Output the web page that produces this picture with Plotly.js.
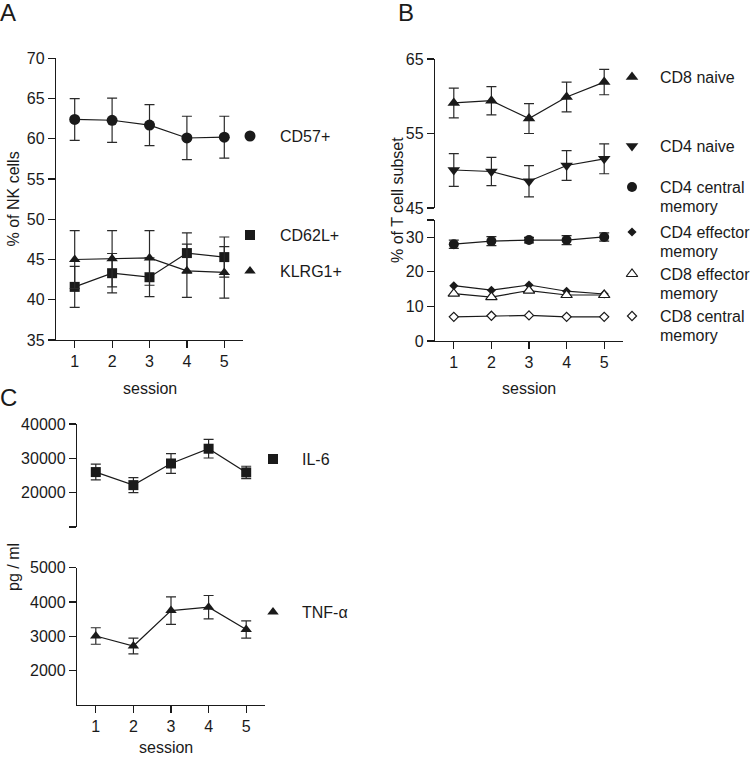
<!DOCTYPE html>
<html>
<head>
<meta charset="utf-8">
<script src="https://cdn.plot.ly/plotly-3.0.1.min.js"></script>
<style>html,body{margin:0;padding:0;background:#fff;}#chart{width:752px;height:758px;}</style>
</head>
<body>
<div id="chart"></div>
<script>
// ---------- data ----------
const sessions = [1, 2, 3, 4, 5];

// Panel A: % of NK cells
const nkNames = ['CD57+', 'CD62L+', 'KLRG1+'];
const cd57 = [62.4, 62.3, 61.7, 60.1, 60.2];
const cd57Err = [2.6, 2.75, 2.55, 2.7, 2.6];
const cd62l = [41.6, 43.3, 42.8, 45.8, 45.3];
const cd62lErr = [2.55, 2.45, 2.4, 2.5, 2.5];
const klrg1 = [45.0, 45.1, 45.2, 43.6, 43.4];
const klrg1Err = [3.6, 3.5, 3.4, 3.3, 3.2];

// Panel B: % of T cell subset
const tNames = ['CD8 naive', 'CD4 naive', 'CD4 central memory', 'CD4 effector memory', 'CD8 effector memory', 'CD8 central memory'];
const cd8Naive = [59.1, 59.4, 57.0, 59.9, 61.9];
const cd8NaiveErr = [2.0, 1.9, 2.0, 2.0, 1.7];
const cd4Naive = [50.1, 49.9, 48.6, 50.7, 51.6];
const cd4NaiveErr = [2.2, 1.9, 2.1, 2.0, 2.0];
const cd4Central = [28.0, 28.9, 29.2, 29.2, 30.1];
const cd4CentralErr = [1.2, 1.3, 0.8, 1.3, 1.2];
const cd4Effector = [16.0, 14.7, 16.2, 14.4, 13.6];
const cd8Effector = [13.7, 12.7, 14.6, 13.3, 13.3];
const cd8Central = [7.0, 7.3, 7.4, 7.0, 7.0];

// Panel C: pg / ml
const cytoNames = ['IL-6', 'TNF-α'];
const il6 = [26000, 22200, 28500, 32800, 25900];
const il6Err = [2300, 2200, 2900, 2700, 1800];
const tnf = [3010, 2720, 3750, 3850, 3200];
const tnfErr = [240, 230, 400, 340, 250];

// tick labels
const nkTicks = [35, 40, 45, 50, 55, 60, 65, 70];
const tUpperTicks = [45, 55, 65];
const tLowerTicks = [0, 10, 20, 30, 35];
const tLowerTickText = ['0', '10', '20', '30', ''];
const il6Ticks = [10000, 20000, 30000, 40000];
const il6TickText = ['', '20000', '30000', '40000'];
const tnfTicks = [2000, 3000, 4000, 5000];

// ---------- layout helpers ----------
const W = 752, H = 758;
const FONT = 'Liberation Sans, Arial, Helvetica, sans-serif';
const INK = '#1a1a1a';
const xd = (a, b) => [a / W, b / W];
const yd = (top, bottom) => [1 - bottom / H, 1 - top / H];

function axisStyle(extra) {
  return Object.assign({
    showline: true, linecolor: INK, linewidth: 1.2,
    ticks: 'outside', ticklen: 7, tickwidth: 1.2, tickcolor: INK,
    showgrid: false, zeroline: false, fixedrange: true,
    tickfont: {family: FONT, size: 16, color: INK}
  }, extra);
}
const xStyle = (domain, anchor) => axisStyle({
  domain: domain, anchor: anchor, range: [0.5, 5.5], tickvals: sessions, ticktext: sessions.map(String)
});

function series(y, err, xa, ya, symbol, size, filled, errWidth) {
  const t = {
    x: sessions, y: y, xaxis: xa, yaxis: ya, type: 'scatter', mode: 'lines+markers',
    cliponaxis: false, showlegend: false,
    line: {color: INK, width: 1.2},
    marker: {symbol: symbol, size: size, opacity: 1, color: filled ? INK : '#ffffff', line: {color: INK, width: filled ? 0 : 1.2}}
  };
  if (err) t.error_y = {type: 'data', array: err, visible: true, color: '#2a2a2a', thickness: 1.2, width: errWidth || 5};
  return t;
}

const traces = [
  series(cd57, cd57Err, 'x', 'y', 'circle', 11, true),
  series(cd62l, cd62lErr, 'x', 'y', 'square', 10, true),
  series(klrg1, klrg1Err, 'x', 'y', 'triangle-up', 10, true),
  series(cd8Naive, cd8NaiveErr, 'x2', 'y2', 'triangle-up', 11, true),
  series(cd4Naive, cd4NaiveErr, 'x2', 'y2', 'triangle-down', 11, true),
  series(cd4Central, cd4CentralErr, 'x2', 'y3', 'circle', 10, true),
  series(cd4Effector, null, 'x2', 'y3', 'diamond', 7, true),
  series(cd8Effector, null, 'x2', 'y3', 'triangle-up', 10, false),
  series(cd8Central, null, 'x2', 'y3', 'diamond', 7, false),
  series(il6, il6Err, 'x3', 'y4', 'square', 10, true),
  series(tnf, tnfErr, 'x3', 'y5', 'triangle-up', 10, true)
];

// ---------- legend keys (pixel positions on an overlay axis) ----------
const legendKeys = [
  {px: 250, py: 136, sym: 'circle', size: 11, fill: true, tx: 278, lines: [nkNames[0]]},
  {px: 250, py: 235, sym: 'square', size: 10, fill: true, tx: 278, lines: [nkNames[1]]},
  {px: 250, py: 271, sym: 'triangle-up', size: 10, fill: true, tx: 278, lines: [nkNames[2]]},
  {px: 632, py: 77, sym: 'triangle-up', size: 11, fill: true, tx: 658, lines: [tNames[0]]},
  {px: 632, py: 146, sym: 'triangle-down', size: 11, fill: true, tx: 658, lines: [tNames[1]]},
  {px: 632, py: 187, sym: 'circle', size: 10, fill: true, tx: 658, lines: ['CD4 central', 'memory']},
  {px: 632, py: 232, sym: 'diamond', size: 7, fill: true, tx: 658, lines: ['CD4 effector', 'memory']},
  {px: 632, py: 274, sym: 'triangle-up', size: 10, fill: false, tx: 658, lines: ['CD8 effector', 'memory']},
  {px: 632, py: 316, sym: 'diamond', size: 7, fill: false, tx: 658, lines: ['CD8 central', 'memory']},
  {px: 273, py: 459, sym: 'square', size: 10, fill: true, tx: 300, lines: [cytoNames[0]]},
  {px: 273, py: 612, sym: 'triangle-up', size: 10, fill: true, tx: 300, lines: [cytoNames[1]]}
];
traces.push({
  x: legendKeys.map(k => k.px), y: legendKeys.map(k => k.py), xaxis: 'x4', yaxis: 'y6',
  type: 'scatter', mode: 'markers', showlegend: false, cliponaxis: false, hoverinfo: 'skip',
  marker: {
    symbol: legendKeys.map(k => k.sym), size: legendKeys.map(k => k.size), opacity: 1,
    color: legendKeys.map(k => k.fill ? INK : '#ffffff'),
    line: {color: INK, width: legendKeys.map(k => k.fill ? 0 : 1.2)}
  }
});

const annotations = [];
const LINE_GAP = 19;
legendKeys.forEach(k => {
  k.lines.forEach((txt, i) => {
    annotations.push({xref: 'x4', yref: 'y6', x: k.tx, y: k.py + i * LINE_GAP, text: txt, showarrow: false,
      xanchor: 'left', yanchor: 'middle', font: {family: FONT, size: 16, color: INK}});
  });
});
const textItems = [
  {x: 8, y: 12, t: 'A', s: 24}, {x: 406, y: 12, t: 'B', s: 24}, {x: 8, y: 397, t: 'C', s: 24},
  {x: 150, y: 388, t: 'session', s: 16}, {x: 529, y: 388, t: 'session', s: 16}, {x: 166, y: 747, t: 'session', s: 16},
  {x: 12.5, y: 199, t: '% of NK cells', s: 16, rot: -90},
  {x: 397, y: 200, t: '% of T cell subset', s: 16, rot: -90},
  {x: 13, y: 567, t: 'pg / ml', s: 16, rot: -90}
];
textItems.forEach(o => annotations.push({xref: 'x4', yref: 'y6', x: o.x, y: o.y, text: o.t, showarrow: false,
  xanchor: 'center', yanchor: 'middle', textangle: o.rot || 0, font: {family: FONT, size: o.s, color: INK}}));

const layout = {
  width: W, height: H, margin: {l: 0, r: 0, t: 0, b: 0},
  paper_bgcolor: '#ffffff', plot_bgcolor: 'rgba(0,0,0,0)', showlegend: false,
  font: {family: FONT, size: 16, color: INK},
  xaxis: xStyle(xd(56, 243), 'y'),
  yaxis: axisStyle({domain: yd(58.3, 340), anchor: 'x', range: [35, 70], tickvals: nkTicks}),
  xaxis2: xStyle(xd(435, 623), 'y3'),
  yaxis2: axisStyle({domain: yd(59, 208), anchor: 'x2', range: [45, 65], tickvals: tUpperTicks}),
  yaxis3: axisStyle({domain: yd(220, 341), anchor: 'x2', range: [0, 35], tickvals: tLowerTicks, ticktext: tLowerTickText}),
  xaxis3: xStyle(xd(77, 265), 'y5'),
  yaxis4: axisStyle({domain: yd(424, 527), anchor: 'x3', range: [10000, 40000], tickvals: il6Ticks, ticktext: il6TickText}),
  yaxis5: axisStyle({domain: yd(567.7, 705), anchor: 'x3', range: [1000, 5000], tickvals: tnfTicks}),
  xaxis4: {domain: [0, 1], range: [0, W], visible: false, fixedrange: true, anchor: 'y6'},
  yaxis6: {domain: [0, 1], range: [H, 0], visible: false, fixedrange: true, anchor: 'x4'},
  annotations: annotations
};

Plotly.newPlot('chart', traces, layout, {displayModeBar: false, staticPlot: true});
</script>
</body>
</html>
